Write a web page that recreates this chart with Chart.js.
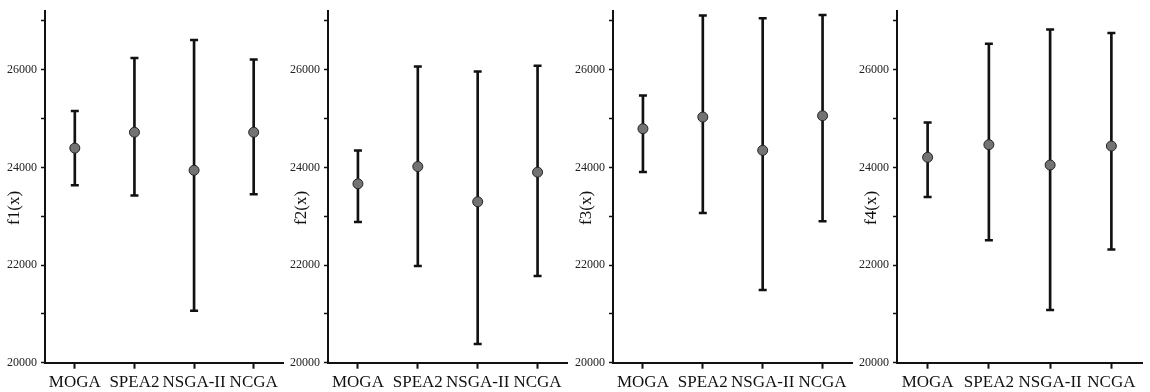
<!DOCTYPE html>
<html><head><meta charset="utf-8">
<script src="https://cdn.jsdelivr.net/npm/chart.js@4/dist/chart.umd.min.js"></script>
<style>
html,body{margin:0;padding:0;background:#fff;width:1150px;height:392px;overflow:hidden}
.p{position:absolute;top:0;height:392px}
</style></head><body>
<div class="p" style="left:0;width:290px"><canvas id="c1"></canvas></div>
<div class="p" style="left:287px;width:287px"><canvas id="c2"></canvas></div>
<div class="p" style="left:572px;width:287px"><canvas id="c3"></canvas></div>
<div class="p" style="left:857px;width:293px"><canvas id="c4"></canvas></div>
<script>
const categories = ['MOGA', 'SPEA2', 'NSGA-II', 'NCGA'];
const yTickValues = [20000, 21000, 22000, 23000, 24000, 25000, 26000, 27000];
const yTickLabels = [20000, 22000, 24000, 26000];

const f1Mean = [24395, 24720, 23941, 24720];
const f1High = [25156, 26240, 26612, 26213];
const f1Low  = [23636, 23426, 21066, 23453];

const f2Mean = [23665, 24018, 23297, 23902];
const f2High = [24345, 26067, 25965, 26082];
const f2Low  = [22880, 21982, 20382, 21777];

const f3Mean = [24793, 25031, 24350, 25059];
const f3High = [25474, 27110, 27055, 27124];
const f3Low  = [23906, 23067, 21487, 22898];

const f4Mean = [24207, 24466, 24049, 24438];
const f4High = [24922, 26531, 26824, 26756];
const f4Low  = [23395, 22509, 21078, 22319];

const serif = "'Liberation Serif', 'DejaVu Serif', serif";

// draws the y-axis title slightly below the middle of the axis, as in the reference
const yTitlePlugin = {
  id: 'yTitle',
  afterDraw(chart, args, opts) {
    const { ctx, chartArea } = chart;
    const s = chart.scales.y;
    ctx.save();
    ctx.font = '17px ' + serif;
    ctx.fillStyle = '#111';
    ctx.textAlign = 'center';
    ctx.textBaseline = 'middle';
    ctx.translate(s.left + opts.dx, (chartArea.top + chartArea.bottom) / 2 + 21);
    ctx.rotate(-Math.PI / 2);
    ctx.fillText(opts.text, 0, 0);
    ctx.restore();
  }
};

function makeChart(id, title, mean, high, low, yWidth, padRight) {
  new Chart(document.getElementById(id), {
    type: 'bar',
    plugins: [yTitlePlugin],
    data: {
      labels: categories,
      datasets: [
        { type: 'bar', data: low.map((l, i) => [l, high[i]]), backgroundColor: '#111', borderWidth: 0, barThickness: 2, order: 3 },
        { type: 'line', data: high, showLine: false, pointStyle: 'line', pointRadius: 4, pointHoverRadius: 4, borderColor: '#111', borderWidth: 2.5, order: 2 },
        { type: 'line', data: low, showLine: false, pointStyle: 'line', pointRadius: 4, pointHoverRadius: 4, borderColor: '#111', borderWidth: 2.5, order: 2 },
        { type: 'line', data: mean, showLine: false, pointRadius: 5, pointHoverRadius: 5, pointBackgroundColor: '#737373', pointBorderColor: '#222', pointBorderWidth: 1, order: 1 }
      ]
    },
    options: {
      responsive: true,
      maintainAspectRatio: false,
      animation: false,
      events: [],
      layout: { padding: { top: 9, right: padRight, bottom: 0, left: 0 } },
      plugins: { legend: { display: false }, tooltip: { enabled: false }, yTitle: { text: title, dx: 15 } },
      scales: {
        x: {
          offset: true,
          grid: { display: true, drawOnChartArea: false, offset: false, tickLength: 6, tickColor: '#111', tickWidth: 2 },
          border: { display: true, color: '#111', width: 2 },
          ticks: { autoSkip: false, maxRotation: 0, minRotation: 0, padding: 4, color: '#111', font: { family: serif, size: 17 } },
          afterFit: (s) => { s.height = 29.3; }
        },
        y: {
          min: 20000,
          max: 27200,
          grid: { display: true, drawOnChartArea: false, tickLength: 4, tickColor: '#111', tickWidth: 1.5 },
          border: { display: true, color: '#111', width: 2 },
          afterBuildTicks: (s) => { s.ticks = yTickValues.map(v => ({ value: v })); },
          ticks: {
            padding: 4,
            color: '#222',
            font: { family: serif, size: 12 },
            callback: (v) => yTickLabels.includes(v) ? String(v) : ''
          },
          afterFit: (s) => { s.width = yWidth; }
        }
      }
    }
  });
}

makeChart('c1', 'f1(x)', f1Mean, f1High, f1Low, 45, 3);
makeChart('c2', 'f2(x)', f2Mean, f2High, f2Low, 41, 4);
makeChart('c3', 'f3(x)', f3Mean, f3High, f3Low, 41, 3);
makeChart('c4', 'f4(x)', f4Mean, f4High, f4Low, 40, 8);
</script>
</body></html>
